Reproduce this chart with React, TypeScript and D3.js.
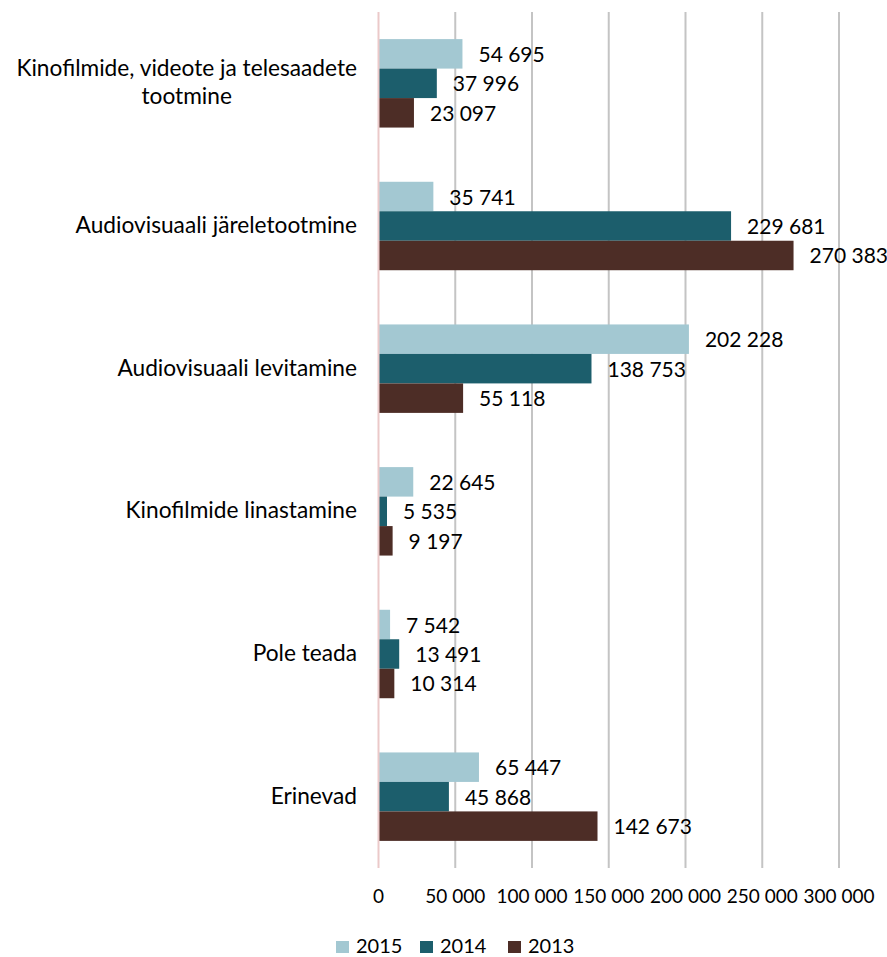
import React, { useEffect, useRef } from "react";
import * as d3 from "d3";

const categories: string[][] = [
  ["Kinofilmide, videote ja telesaadete", "tootmine"],
  ["Audiovisuaali järeletootmine"],
  ["Audiovisuaali levitamine"],
  ["Kinofilmide linastamine"],
  ["Pole teada"],
  ["Erinevad"],
];
const years = ["2015", "2014", "2013"];
const values2015 = [54695, 35741, 202228, 22645, 7542, 65447];
const values2014 = [37996, 229681, 138753, 5535, 13491, 45868];
const values2013 = [23097, 270383, 55118, 9197, 10314, 142673];
const xTicks = [0, 50000, 100000, 150000, 200000, 250000, 300000];
const colors = ["#a3c8d2", "#1c5e6c", "#4d2d26"];

const W = 887;
const H = 957;
const FONT = "Lato, 'Noto Sans', sans-serif";

const fmt = (v: number) => {
  const s = String(v);
  return s.replace(/\B(?=(\d{3})+(?!\d))/g, " ");
};

export default function App() {
  const ref = useRef<SVGSVGElement>(null);

  useEffect(() => {
    const svg = d3.select(ref.current);
    svg.selectAll("*").remove();

    const series = [values2015, values2014, values2013];
    const plotTop = 12;
    const plotBottom = 868;
    const x = d3.scaleLinear().domain([0, 300000]).range([378.5, 839]);
    const y0 = d3
      .scaleBand<number>()
      .domain(d3.range(categories.length))
      .range([plotTop, plotBottom])
      .paddingInner(0.38)
      .paddingOuter(0.19);
    const y1 = d3
      .scaleBand<number>()
      .domain(d3.range(years.length))
      .range([0, y0.bandwidth()]);

    // vertical gridlines
    svg
      .append("g")
      .selectAll("line")
      .data(xTicks.slice(1))
      .join("line")
      .attr("x1", (d) => x(d))
      .attr("x2", (d) => x(d))
      .attr("y1", plotTop)
      .attr("y2", plotBottom)
      .attr("stroke", "#c4c4c4")
      .attr("stroke-width", 2);

    // bars
    const groups = svg
      .append("g")
      .selectAll("g")
      .data(categories.map((_, i) => i))
      .join("g")
      .attr("transform", (i) => `translate(0,${y0(i)})`);

    groups
      .selectAll("rect")
      .data((i) => series.map((s, k) => ({ k, v: s[i] })))
      .join("rect")
      .attr("x", x(0))
      .attr("y", (d) => y1(d.k)!)
      .attr("width", (d) => x(d.v) - x(0))
      .attr("height", y1.bandwidth())
      .attr("fill", (d) => colors[d.k]);

    groups
      .selectAll("text")
      .data((i) => series.map((s, k) => ({ k, v: s[i] })))
      .join("text")
      .attr("x", (d) => x(d.v) + 16)
      .attr("y", (d) => y1(d.k)! + y1.bandwidth() / 2 + 8)
      .attr("font-family", FONT)
      .attr("font-size", 21)
      .attr("fill", "#000")
      .text((d) => fmt(d.v));

    // zero axis line
    svg
      .append("line")
      .attr("x1", x(0))
      .attr("x2", x(0))
      .attr("y1", plotTop)
      .attr("y2", plotBottom)
      .attr("stroke", "#ebc9c9")
      .attr("stroke-width", 2);

    // x tick labels
    svg
      .append("g")
      .selectAll("text")
      .data(xTicks)
      .join("text")
      .attr("x", (d) => x(d))
      .attr("y", 903)
      .attr("text-anchor", "middle")
      .attr("font-family", FONT)
      .attr("font-size", 19)
      .attr("fill", "#000")
      .text((d) => fmt(d));

    // category labels
    const labelRight = 357;
    const lineGap = 28;
    categories.forEach((lines, i) => {
      const cy = y0(i)! + y0.bandwidth() / 2;
      const g = svg.append("g");
      const texts = lines.map((line, j) =>
        g
          .append("text")
          .attr("y", cy + (j - (lines.length - 1) / 2) * lineGap + 7)
          .attr("text-anchor", "middle")
          .attr("font-family", FONT)
          .attr("font-size", 22.7)
          .attr("fill", "#000")
          .text(line)
      );
      const widest = d3.max(texts, (t) => (t.node() as SVGTextElement).getComputedTextLength()) || 0;
      texts.forEach((t) => t.attr("x", labelRight - widest / 2));
    });

    // legend
    const legend = svg.append("g");
    const legendX = [336, 420, 508];
    years.forEach((yr, k) => {
      legend
        .append("rect")
        .attr("x", legendX[k])
        .attr("y", 941)
        .attr("width", 13)
        .attr("height", 12)
        .attr("fill", colors[k]);
      legend
        .append("text")
        .attr("x", legendX[k] + 20)
        .attr("y", 953)
        .attr("font-family", FONT)
        .attr("font-size", 20)
        .attr("fill", "#000")
        .text(yr);
    });
  }, []);

  return (
    <svg
      ref={ref}
      width={W}
      height={H}
      style={{ position: "absolute", left: 0, top: 0, background: "#fff" }}
    />
  );
}
